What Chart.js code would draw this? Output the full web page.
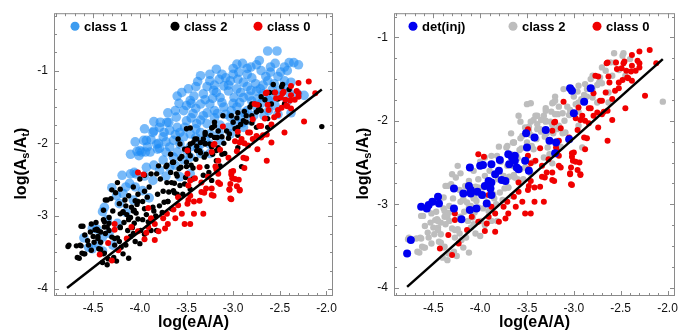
<!DOCTYPE html>
<html>
<head>
<meta charset="utf-8">
<script src="https://cdn.jsdelivr.net/npm/chart.js@4/dist/chart.umd.min.js"></script>
<style>
body{margin:0;background:#fff;}
.row{display:flex;width:691px;height:335px;}
</style>
</head>
<body>
<div class="row">
  <canvas id="left" width="345" height="335"></canvas>
  <canvas id="right" width="346" height="335"></canvas>
</div>
<script>
// tick labels
var xTicks = [-4.5, -4.0, -3.5, -3.0, -2.5, -2.0];
var yTicks = [-4, -3, -2, -1];
var xTitle = "log(eA/A)";

// legend labels
var leftLabels  = ["class 1", "class 2", "class 0"];
var rightLabels = ["det(inj)", "class 2", "class 0"];

// reference line (end points)
var fitLine = [[-4.78, -3.99], [-2.05, -1.26]];

// class 1 (left panel, light blue)
var class1 = [
[-2.63,-0.73],[-2.53,-0.73],[-2.72,-0.86],[-2.35,-0.89],[-2.40,-0.89],[-2.81,-0.95],[-2.70,-1.00],[-2.60,-1.02],
[-2.49,-1.02],[-2.94,-1.02],[-3.12,-1.05],[-3.25,-1.14],[-3.35,-1.07],[-3.03,-1.14],[-2.89,-1.16],[-2.76,-1.18],
[-2.63,-1.14],[-2.38,-1.16],[-2.71,-1.25],[-2.81,-1.27],[-2.96,-1.25],[-3.10,-1.21],[-3.21,-1.27],[-3.32,-1.32],
[-3.14,-1.37],[-2.99,-1.37],[-2.89,-1.37],[-2.74,-1.39],[-2.60,-1.37],[-3.46,-1.41],[-3.35,-1.46],[-3.25,-1.46],
[-3.10,-1.50],[-2.96,-1.50],[-2.85,-1.55],[-2.74,-1.53],[-3.53,-1.55],[-3.43,-1.59],[-3.32,-1.62],[-3.17,-1.59],
[-3.03,-1.64],[-2.92,-1.64],[-3.61,-1.64],[-3.50,-1.69],[-3.39,-1.73],[-3.28,-1.73],[-3.14,-1.75],[-3.71,-1.71],
[-3.79,-1.78],[-3.68,-1.82],[-3.57,-1.85],[-3.46,-1.87],[-3.35,-1.85],[-3.25,-1.87],[-3.86,-1.85],[-3.75,-1.91],
[-3.64,-1.96],[-3.53,-1.91],[-3.93,-1.96],[-3.82,-2.01],[-4.00,-2.10],[-3.89,-2.12],[-3.79,-2.07],[-3.68,-2.05],
[-3.57,-2.01],[-3.46,-2.05],[-3.35,-2.01],[-3.25,-2.01],[-3.14,-1.96],[-3.03,-1.87],[-2.89,-1.78],[-2.81,-1.69],
[-2.67,-1.62],[-2.62,-1.41],[-2.49,-1.27],[-2.31,-1.32],[-2.24,-1.34],[-2.56,-1.18],[-2.45,-1.14],[-2.42,-1.00],
[-2.96,-0.91],[-2.85,-0.97],
[-4.40,-2.94],[-4.51,-3.17],[-4.51,-3.45],[-4.33,-3.24],[-4.22,-2.83],[-4.11,-2.55],[-4.04,-2.42],[-3.93,-2.33],
[-4.24,-3.10],[-4.40,-3.29],[-4.29,-3.40],[-4.18,-2.69],[-4.07,-2.78],[-3.97,-2.65],[-3.86,-2.51],[-3.79,-2.37],
[-3.75,-2.23],[-3.64,-2.19],[-3.53,-2.23],[-3.46,-2.19],[-3.35,-2.14],[-3.25,-2.14],[-3.68,-2.33],[-3.57,-2.46],
[-3.46,-2.42],[-4.38,-2.88],[-4.46,-3.18],[-4.55,-3.43],[-4.30,-2.61],[-4.19,-2.44],[-4.10,-2.42],[-4.01,-2.17],
[-3.94,-2.12],
[-3.05,-1.28],[-2.92,-1.30],[-3.18,-1.30],[-3.00,-1.45],[-2.80,-1.42],[-2.68,-1.32],[-2.55,-1.48],[-3.40,-1.52],
[-3.20,-1.55],[-3.08,-1.60],[-2.88,-1.58],[-3.30,-1.40],[-3.45,-1.65],[-3.60,-1.78],[-3.40,-1.80],[-3.30,-1.95],
[-3.15,-1.85],[-2.98,-1.72],[-3.55,-1.30],[-3.48,-1.25],[-3.00,-1.05],[-2.90,-0.90],[-2.55,-0.90],[-2.30,-0.92],
[-2.45,-0.95],[-2.65,-1.08],[-2.80,-1.10],[-3.20,-1.20],[-3.40,-1.22],[-3.58,-1.45],[-3.70,-1.58],[-3.85,-1.70],
[-3.95,-1.80],[-4.05,-1.98],[-4.10,-2.15],[-2.52,-1.60],[-2.42,-1.42],[-2.38,-1.58],
[-3.78,-1.71],[-3.69,-1.71],[-3.74,-1.85],[-3.85,-1.83],[-3.96,-1.96],[-4.03,-2.11],[-3.98,-2.12],[-4.06,-2.40],
[-3.81,-2.08],[-3.80,-2.00],
[-3.42,-1.35],[-3.28,-1.22],[-3.15,-1.12],[-3.05,-1.20],[-2.95,-1.12],[-2.85,-1.22],[-2.75,-1.28],[-2.68,-1.20],
[-2.58,-1.26],[-2.50,-1.35],[-2.46,-1.22],[-2.40,-1.30],[-2.52,-1.08],[-2.60,-0.95],[-2.75,-0.92],[-2.85,-1.05],
[-3.00,-0.97],[-3.08,-1.10],[-3.22,-1.38],[-3.12,-1.44],[-3.02,-1.55],[-2.93,-1.44],[-2.83,-1.35],[-2.70,-1.45],
[-2.62,-1.55],[-2.78,-1.62],[-2.90,-1.72],[-3.05,-1.78],[-3.20,-1.65],[-3.35,-1.68],[-3.50,-1.48],[-3.62,-1.55],
[-3.52,-1.78],[-3.40,-1.92],[-3.62,-1.88],[-3.72,-1.98],[-3.88,-1.95],[-3.92,-2.05],[-3.72,-2.12],[-3.60,-2.12],
[-3.50,-2.10],[-3.38,-2.07],[-3.72,-2.45],[-3.85,-2.30],[-3.95,-2.45],[-4.15,-2.60],[-4.25,-2.72],[-4.15,-2.95],
[-4.35,-3.05],[-4.45,-3.38],[-4.40,-3.48],[-4.60,-3.30],[-4.05,-2.60],[-3.90,-2.75],[-3.62,-2.30],[-3.28,-1.58],
[-3.45,-1.45],[-3.60,-1.35],[-3.38,-1.15],[-3.25,-1.05],[-3.18,-0.98]
];

// class 2 (black on the left, grey on the right)
var class2 = [
[-4.77,-3.42],[-4.65,-3.58],[-4.63,-3.41],[-4.60,-3.52],[-4.61,-3.14],[-4.53,-3.22],[-4.47,-3.09],[-4.46,-3.18],
[-4.56,-3.34],[-4.49,-3.36],[-4.42,-3.36],[-4.44,-3.45],[-4.39,-3.52],[-4.35,-3.67],[-4.42,-3.22],[-4.37,-3.24],
[-4.39,-3.05],[-4.33,-3.02],[-4.35,-3.15],[-4.30,-3.29],[-4.29,-2.93],[-4.31,-2.76],[-4.37,-2.78],[-4.24,-2.54],
[-4.21,-2.63],[-4.22,-2.83],[-4.21,-2.97],[-4.21,-3.15],[-4.17,-3.09],[-4.15,-2.86],[-4.12,-2.72],[-4.10,-3.02],
[-4.08,-3.16],[-4.07,-2.93],[-4.05,-2.79],[-4.07,-2.60],[-4.00,-2.49],[-4.02,-2.70],[-4.02,-3.04],[-3.99,-3.20],
[-3.95,-2.90],[-3.92,-2.74],[-3.90,-2.60],[-3.88,-2.42],[-3.85,-2.93],[-3.88,-3.20],[-3.88,-3.06],[-3.81,-2.70],
[-3.78,-2.49],[-3.80,-2.31],[-3.74,-2.81],[-3.69,-2.67],[-3.71,-2.54],[-3.67,-2.40],[-3.65,-2.26],[-3.63,-2.55],
[-3.60,-2.70],[-3.56,-2.33],[-3.51,-2.47],[-3.50,-2.26],[-3.55,-2.18],[-3.48,-2.12],[-3.46,-2.01],[-3.67,-2.15],
[-3.71,-2.30],
[-2.47,-1.19],[-2.48,-1.22],[-2.61,-1.30],[-2.52,-1.39],[-2.59,-1.46],[-2.70,-1.55],[-2.82,-1.50],[-2.75,-1.57],
[-2.86,-1.62],[-3.02,-1.62],[-3.00,-1.71],[-2.96,-1.65],[-2.89,-1.69],[-2.86,-1.71],[-2.95,-1.78],[-3.20,-1.71],
[-3.23,-1.79],[-3.16,-1.83],[-3.07,-1.83],[-3.30,-1.85],[-3.24,-1.89],[-3.17,-1.92],[-3.12,-1.91],[-3.05,-1.93],
[-3.50,-1.80],[-3.39,-1.94],[-3.43,-1.99],[-3.35,-1.99],[-3.30,-2.01],[-3.23,-2.05],[-3.48,-2.07],[-3.57,-2.01],
[-3.39,-2.10],[-3.35,-2.13],[-3.31,-2.19],[-2.75,-1.78],[-2.63,-1.78],[-2.63,-1.66],[-2.05,-1.77],
[-3.46,-1.79],[-3.22,-1.78],[-3.04,-1.87],[-2.95,-1.89],[-3.32,-1.94],[-3.25,-2.01],[-3.36,-2.10],[-3.29,-2.15],
[-3.22,-2.15],[-3.18,-2.24],[-3.14,-2.31],[-3.46,-2.17],[-3.57,-2.21],[-3.64,-2.26],[-3.50,-2.32],[-3.43,-2.34],
[-3.61,-2.42],[-3.66,-2.54],[-3.57,-2.58],[-3.64,-2.65],[-3.54,-2.70],[-3.43,-2.49],[-3.46,-2.63],[-3.23,-2.51],
[-3.32,-2.44],[-3.18,-2.10],
[-4.18,-2.95],[-4.14,-2.98],[-4.12,-3.05],[-4.09,-2.88],[-4.04,-2.96],[-4.06,-3.10],[-4.13,-3.20],[-4.10,-3.28],
[-4.05,-3.35],[-3.97,-3.05],[-3.93,-2.98],[-4.16,-2.78],[-4.03,-2.84],[-3.97,-2.80],[-3.95,-3.25],[-3.83,-3.00],
[-3.79,-2.86],[-3.76,-2.95],[-3.70,-2.80],[-3.66,-2.90],[-3.60,-2.45],[-3.58,-2.35],[-3.52,-2.56],[-4.27,-3.40],
[-4.22,-3.35],[-4.33,-3.10],[-4.45,-3.28],[-4.18,-3.52],[-4.12,-3.58],[-4.25,-3.62],[-4.52,-3.47],[-4.28,-3.57],
[-3.82,-3.20],[-4.00,-3.38],[-3.45,-2.30],[-3.40,-2.22],[-3.28,-2.32],[-3.26,-2.40],[-3.10,-2.00],[-3.12,-2.15],
[-2.98,-1.80],[-2.92,-1.74],[-2.80,-1.62],[-2.72,-1.48],[-2.66,-1.40],[-2.56,-1.30],[-2.40,-1.26],[-2.45,-1.46],
[-2.57,-1.19],[-2.70,-1.36],[-2.80,-1.46],[-2.73,-1.54],[-2.88,-1.56],[-2.95,-1.58],[-2.80,-1.72],[-3.11,-1.62],
[-3.20,-1.76],[-3.30,-1.88],[-3.41,-1.94],[-3.20,-1.92],[-3.30,-2.00],[-3.39,-2.04],[-3.16,-2.06],[-3.09,-2.14],
[-2.95,-2.06],[-2.91,-2.32],
[-4.68,-3.41],[-4.59,-3.52],[-4.34,-3.59],[-4.38,-3.51],[-4.45,-3.31],[-4.48,-3.19],[-4.38,-3.15],[-4.27,-3.31],
[-4.20,-3.43],[-4.52,-3.11],
[-4.76,-3.40],[-4.67,-3.57],[-4.62,-3.51],[-4.64,-3.40],[-4.55,-3.40],[-4.50,-3.28],[-4.59,-3.26],[-4.63,-3.14],
[-4.45,-3.20],[-4.38,-3.08],[-4.33,-3.20],[-4.39,-2.92],[-4.30,-2.64],[-4.35,-2.78],[-4.26,-2.68],[-4.18,-2.94],
[-4.21,-3.16],[-4.12,-3.04],[-4.07,-3.24],[-4.06,-2.92],[-4.02,-2.80],[-3.95,-2.44],[-3.95,-2.66],[-3.86,-2.88],
[-3.91,-3.08],[-3.82,-2.42],[-3.75,-2.66],[-3.70,-2.80],[-3.72,-2.32],[-3.64,-2.26],[-3.59,-1.94],[-3.52,-2.08],
[-3.63,-2.68],[-4.24,-3.30],[-4.15,-3.40],[-4.40,-3.64],[-4.42,-3.46]
];

// class 0 (red, both panels)
var class0 = [
[-2.19,-1.15],[-2.30,-1.17],[-2.38,-1.21],[-2.46,-1.29],[-2.38,-1.34],[-2.30,-1.31],[-2.30,-1.36],[-2.34,-1.40],
[-2.44,-1.40],[-2.54,-1.38],[-2.64,-1.30],[-2.55,-1.30],[-2.77,-1.46],[-2.74,-1.47],[-2.43,-1.48],[-2.52,-1.54],
[-2.62,-1.54],[-2.38,-1.52],[-2.12,-1.31],[-2.24,-1.70],[-2.45,-1.85],[-2.59,-1.74],[-2.66,-1.66],[-2.56,-1.64],
[-2.52,-1.61],[-2.70,-1.76],[-2.84,-1.85],[-2.95,-1.84],[-3.11,-1.77],[-2.70,-1.92],[-2.79,-1.94],[-2.59,-1.99],
[-2.91,-1.94],[-2.88,-2.00],[-2.98,-1.97],[-2.74,-2.08],[-2.64,-1.88],[-2.64,-2.24],[-2.89,-2.20],[-3.05,-2.20],
[-3.16,-2.24],[-3.21,-2.02],[-3.23,-2.12],[-3.19,-2.32],[-3.16,-2.42],[-3.00,-2.38],[-3.01,-2.48],[-3.03,-2.56],
[-2.94,-2.50],[-2.96,-2.59],[-2.93,-2.64],[-3.04,-2.64],[-3.03,-2.76],[-3.16,-2.54],[-3.21,-2.72],[-3.23,-2.62],
[-3.31,-2.68],[-3.34,-2.54],[-3.41,-2.48],[-3.49,-2.42],[-3.49,-2.10],[-3.48,-2.58],[-3.46,-2.72],[-3.49,-2.83],
[-3.42,-2.80],[-3.59,-2.74],[-3.59,-2.85],[-3.64,-2.91],[-3.55,-2.97],[-3.42,-2.97],[-3.32,-2.97],[-3.46,-3.11],
[-3.52,-3.11],[-3.71,-2.97],[-3.75,-3.03],[-3.62,-3.03],[-3.70,-3.11],[-3.73,-3.17],[-3.84,-3.11],[-3.88,-3.03],
[-3.80,-3.21],[-3.91,-3.15],[-3.93,-3.23],[-3.84,-3.33],[-3.95,-3.32],[-4.02,-3.21],[-4.02,-2.40],[-3.96,-2.43],
[-3.91,-2.89],[-4.09,-3.15],[-4.14,-3.31],[-4.27,-3.11],[-4.27,-3.19],[-4.23,-3.47],[-4.34,-3.37],[-4.30,-3.61],
[-4.43,-3.53],
[-2.32,-1.28],[-2.47,-1.31],[-2.39,-1.41],[-2.42,-1.49],[-2.49,-1.37],[-2.48,-1.51],[-2.63,-1.47],[-2.65,-1.31],
[-2.72,-1.76],[-2.79,-1.67],[-2.68,-1.89],[-2.75,-1.90],[-2.82,-1.85],[-2.93,-1.99],[-2.84,-2.03],[-2.96,-2.11],
[-3.20,-2.01],[-3.14,-2.09],[-2.86,-2.21],[-2.88,-2.34],[-3.18,-2.36],[-3.02,-2.43],[-3.14,-2.56],[-3.04,-2.63],
[-2.93,-2.65],[-3.02,-2.77],[-3.27,-2.46],[-3.29,-2.62],[-3.36,-2.33],[-3.34,-2.67],[-3.23,-2.71],[-3.36,-2.79],
[-3.48,-2.78],[-3.02,-2.39],[-2.98,-2.49],[-3.46,-2.51]
];

// det(inj) (right panel, blue)
var detInj = [
[-4.78,-3.59],[-4.74,-3.43],[-4.63,-3.03],[-4.57,-3.05],[-4.55,-3.01],[-4.51,-2.97],[-4.45,-2.91],[-4.44,-2.99],
[-4.28,-2.81],[-4.28,-3.05],[-4.20,-3.18],[-4.18,-2.87],[-4.11,-2.56],[-4.12,-2.78],[-4.10,-2.83],[-4.11,-3.07],
[-4.04,-3.05],[-4.03,-2.85],[-4.00,-2.54],[-3.97,-2.53],[-3.95,-2.78],[-3.98,-2.89],[-3.93,-2.99],[-3.89,-2.81],
[-3.88,-2.52],[-3.84,-2.64],[-3.80,-2.60],[-3.77,-2.71],[-3.88,-2.74],[-3.91,-2.72],[-3.73,-2.72],[-3.79,-2.47],
[-3.70,-2.40],[-3.69,-2.52],[-3.66,-2.44],[-3.63,-2.42],[-3.61,-2.56],[-3.63,-2.48],[-3.51,-2.15],[-3.50,-2.32],
[-3.52,-2.48],[-3.48,-2.60],[-3.59,-2.58],[-3.30,-2.11],[-3.26,-2.24],[-3.42,-2.20],[-3.19,-2.26],[-3.20,-2.39],
[-3.02,-1.64],[-3.04,-1.61],[-2.82,-1.61],[-2.89,-1.77],[-3.00,-1.91],[-3.05,-2.22],[-3.88,-2.89],[-4.10,-2.87]
];

Chart.defaults.font.family = '"Liberation Sans", Arial, Helvetica, sans-serif';
Chart.defaults.color = '#111';

function pts(arr){
	return arr.map(p => ({x: p[0], y: p[1]}));
}

// frame, inward ticks, legend inside the box and y title with subscripts
function decoPlugin(legendItems, titleX){
	return {
		id: 'deco',
		afterDraw(chart){
			var ctx = chart.ctx;
			var a = chart.chartArea;
			var xs = chart.scales.x, ys = chart.scales.y;
			ctx.save();
			ctx.strokeStyle = '#8a8a8a';
			ctx.lineWidth = 1;
			ctx.strokeRect(a.left + 0.5, a.top + 0.5, a.right - a.left - 1, a.bottom - a.top - 1);
			ctx.beginPath();
			for(var i = -49; i <= -19; i++){
				var v = i / 10;
				if(v < xs.min || v > xs.max) continue;
				var px = Math.round(xs.getPixelForValue(v)) + 0.5;
				var len = (i % 5 == 0) ? 5 : 3;
				ctx.moveTo(px, a.bottom); ctx.lineTo(px, a.bottom - len);
				ctx.moveTo(px, a.top); ctx.lineTo(px, a.top + len);
			}
			for(var j = -17; j <= -1; j++){
				var w = j / 4;
				if(w < ys.min || w > ys.max) continue;
				var py = Math.round(ys.getPixelForValue(w)) + 0.5;
				var ln = (j % 4 == 0) ? 5 : 3;
				ctx.moveTo(a.left, py); ctx.lineTo(a.left + ln, py);
				ctx.moveTo(a.right, py); ctx.lineTo(a.right - ln, py);
			}
			ctx.stroke();

			// legend
			ctx.font = 'bold 13px "Liberation Sans", Arial, sans-serif';
			ctx.textBaseline = 'middle';
			ctx.textAlign = 'left';
			legendItems.forEach(it => {
				var lx = a.left + it.dx, ly = a.top + 13;
				ctx.fillStyle = it.color;
				ctx.beginPath();
				ctx.arc(lx, ly, 4.5, 0, Math.PI * 2);
				ctx.fill();
				ctx.fillStyle = '#000';
				ctx.fillText(it.text, lx + 9, ly + 1);
			});

			// y title: log(A_s/A_t)
			var parts = [
				{t: 'log(A', big: true}, {t: 's', big: false},
				{t: '/A', big: true}, {t: 't', big: false}, {t: ')', big: true}
			];
			var bigF = 'bold 16px "Liberation Sans", Arial, sans-serif';
			var smallF = 'bold 11px "Liberation Sans", Arial, sans-serif';
			var total = 0;
			parts.forEach(p => { ctx.font = p.big ? bigF : smallF; p.w = ctx.measureText(p.t).width; total += p.w; });
			ctx.translate(titleX, (a.top + a.bottom) / 2 + 9);
			ctx.rotate(-Math.PI / 2);
			ctx.textBaseline = 'alphabetic';
			ctx.fillStyle = '#000';
			var cx = -total / 2;
			parts.forEach(p => {
				ctx.font = p.big ? bigF : smallF;
				ctx.fillText(p.t, cx, p.big ? 6 : 9);
				cx += p.w;
			});
			ctx.restore();
		}
	};
}

function makeOptions(ymin, ymax, xmax, yWidth, rightPad){
	return {
		responsive: false,
		animation: false,
		devicePixelRatio: 1,
		layout: {padding: {top: 13, right: rightPad, left: 0, bottom: 0}},
		plugins: {legend: {display: false}, tooltip: {enabled: false}},
		scales: {
			x: {
				type: 'linear', min: -4.92, max: xmax,
				grid: {display: false, drawTicks: false},
				border: {display: false},
				afterBuildTicks: s => { s.ticks = xTicks.map(v => ({value: v})); },
				afterFit: s => { s.height = 39; },
				ticks: {padding: 5, font: {size: 12}, color: '#111', callback: v => v.toFixed(1)},
				title: {display: true, text: xTitle, font: {size: 16, weight: 'bold'}, color: '#000', padding: {top: 0, bottom: 3}}
			},
			y: {
				type: 'linear', min: ymin, max: ymax,
				grid: {display: false, drawTicks: false},
				border: {display: false},
				afterBuildTicks: s => { s.ticks = yTicks.map(v => ({value: v})); },
				afterFit: s => { s.width = yWidth; },
				ticks: {padding: 6, font: {size: 12}, color: '#111', callback: v => String(v)}
			}
		}
	};
}

var lineSet = {
	data: pts(fitLine), showLine: true, borderColor: '#000', borderWidth: 2.5,
	pointRadius: 0, order: 0
};

new Chart(document.getElementById('left'), {
	type: 'scatter',
	data: {
		datasets: [
			Object.assign({}, lineSet),
			{label: leftLabels[2], data: pts(class0), backgroundColor: '#f00000', pointRadius: 3, borderWidth: 0, order: 1},
			{label: leftLabels[1], data: pts(class2), backgroundColor: '#000', pointRadius: 2.7, borderWidth: 0, order: 2},
			{label: leftLabels[0], data: pts(class1), backgroundColor: 'rgba(30,140,245,0.6)', pointRadius: 4.8, borderWidth: 0, order: 3}
		]
	},
	options: makeOptions(-4.1, -0.21, -1.93, 54, 12),
	plugins: [decoPlugin([
		{dx: 21, color: '#3c9cf0', text: leftLabels[0]},
		{dx: 121, color: '#000', text: leftLabels[1]},
		{dx: 204, color: '#f00000', text: leftLabels[2]}
	], 20)]
});

new Chart(document.getElementById('right'), {
	type: 'scatter',
	data: {
		datasets: [
			Object.assign({}, lineSet),
			{label: rightLabels[0], data: pts(detInj), backgroundColor: '#0000f0', pointRadius: 4, borderWidth: 0, order: 1},
			{label: rightLabels[2], data: pts(class0), backgroundColor: '#f00000', pointRadius: 3, borderWidth: 0, order: 2},
			{label: rightLabels[1], data: pts(class2), backgroundColor: '#bdbdbd', pointRadius: 3.2, borderWidth: 0, order: 3}
		]
	},
	options: makeOptions(-4.1, -0.71, -1.92, 49, 16),
	plugins: [decoPlugin([
		{dx: 19, color: '#0000f0', text: rightLabels[0]},
		{dx: 119, color: '#bdbdbd', text: rightLabels[1]},
		{dx: 203, color: '#f00000', text: rightLabels[2]}
	], 17)]
});
</script>
</body>
</html>
